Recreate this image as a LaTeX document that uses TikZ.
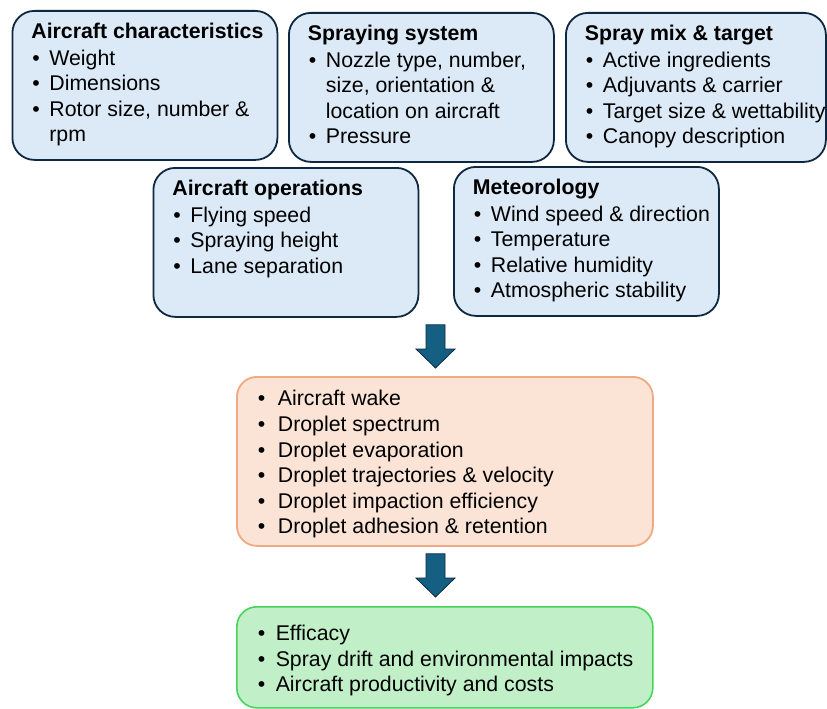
\documentclass[tikz,border=0pt]{standalone}
\usepackage{fontspec}
\setmainfont{Liberation Sans}
\usetikzlibrary{calc}
\definecolor{boxblue}{RGB}{220,234,247}
\definecolor{boxnavy}{RGB}{14,40,65}
\definecolor{boxpeach}{RGB}{251,227,214}
\definecolor{boxorange}{RGB}{241,169,131}
\definecolor{boxmint}{RGB}{193,240,200}
\definecolor{boxgreen}{RGB}{71,212,90}
\definecolor{arrowteal}{RGB}{21,96,130}

% bullet line and bold heading inside a box
\newcommand{\itm}[2][17pt]{\mbox{\hspace*{1pt}\makebox[#1][l]{\textbullet}#2}}
\newcommand{\hd}[1]{\mbox{\bfseries #1}}

\begin{document}
\begin{tikzpicture}[x=1pt, y=-1pt,
    every node/.style={font=\fontsize{21.3}{25.6}\selectfont},
    bluebox/.style={draw=boxnavy, fill=boxblue, line width=1.8pt, rounded corners=22pt,
        anchor=north west, inner xsep=19pt, inner ysep=12.5pt},
    peachbox/.style={draw=boxorange, fill=boxpeach, line width=1.8pt, rounded corners=20pt,
        anchor=north west, inner xsep=20pt, inner ysep=13.6pt},
    mintbox/.style={draw=boxgreen, fill=boxmint, line width=1.6pt, rounded corners=20pt,
        anchor=north west, inner xsep=20pt, inner ysep=18.5pt},
    flowarrow/.style={fill=arrowteal, draw=boxnavy, line width=0.8pt, line join=miter}]
    \useasboundingbox (0,0) rectangle (827,709);

    % inputs
    \node[bluebox] (chars) at (11.5,10) {\parbox[t][124pt][t]{227pt}{%
        \hd{Aircraft characteristics}\\[0.7pt]
        \itm{Weight}\\
        \itm{Dimensions}\\
        \itm{Rotor size, number \&}\\
        \mbox{\hspace*{18pt}rpm}}};
    \node[bluebox] (spray) at (288,12) {\parbox[t][124pt][t]{227pt}{%
        \hd{Spraying system}\\[0.7pt]
        \itm{Nozzle type, number,}\\
        \mbox{\hspace*{18pt}size, orientation \&}\\
        \mbox{\hspace*{18pt}location on aircraft}\\
        \itm{Pressure}}};
    \node[bluebox] (mix) at (565,12) {\parbox[t][124pt][t]{222pt}{%
        \hd{Spray mix \& target}\\[0.7pt]
        \itm{Active ingredients}\\
        \itm{Adjuvants \& carrier}\\
        \itm{Target size \& wettability}\\
        \itm{Canopy description}}};
    \node[bluebox] (ops) at (152.5,167) {\parbox[t][124pt][t]{227pt}{%
        \hd{Aircraft operations}\\[0.7pt]
        \itm{Flying speed}\\
        \itm{Spraying height}\\
        \itm{Lane separation}}};
    \node[bluebox] (met) at (453,166) {\parbox[t][124pt][t]{227pt}{%
        \hd{Meteorology}\\[0.7pt]
        \itm{Wind speed \& direction}\\
        \itm{Temperature}\\
        \itm{Relative humidity}\\
        \itm{Atmospheric stability}}};

    % processes
    \node[peachbox] (proc) at (236,376) {\parbox[t][141.8pt][t]{376pt}{%
        \itm[20pt]{Aircraft wake}\\
        \itm[20pt]{Droplet spectrum}\\
        \itm[20pt]{Droplet evaporation}\\
        \itm[20pt]{Droplet trajectories \& velocity}\\
        \itm[20pt]{Droplet impaction efficiency}\\
        \itm[20pt]{Droplet adhesion \& retention}}};

    % outcomes
    \node[mintbox] (out) at (236,606) {\parbox[t][64pt][t]{376pt}{%
        \itm[18pt]{Efficacy}\\
        \itm[18pt]{Spray drift and environmental impacts}\\
        \itm[18pt]{Aircraft productivity and costs}}};

    % block arrows
    \coordinate (col) at (435.5,0);
    \coordinate (a1top) at ($(ops.south -| col)+(0,7)$);
    \coordinate (a1tip) at ($(proc.north -| col)+(0,-8)$);
    \coordinate (a2top) at ($(proc.south -| col)+(0,7)$);
    \coordinate (a2tip) at ($(out.north -| col)+(0,-9)$);
    \foreach \s/\t in {a1top/a1tip, a2top/a2tip}
        \filldraw[flowarrow] ($(\s)+(-9.5,0)$) -- ($(\s)+(9.5,0)$) -- ($(\t)+(9.5,-19)$)
            -- ($(\t)+(19.5,-19)$) -- (\t) -- ($(\t)+(-19.5,-19)$) -- ($(\t)+(-9.5,-19)$) -- cycle;
\end{tikzpicture}
\end{document}
